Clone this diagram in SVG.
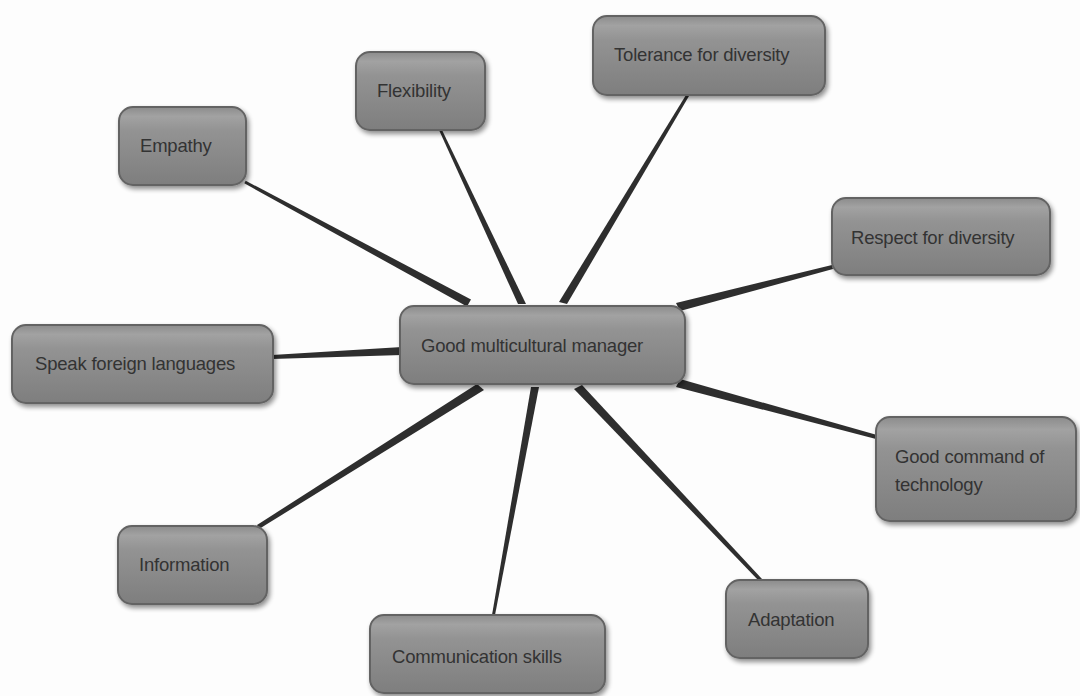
<svg xmlns="http://www.w3.org/2000/svg" width="1080" height="696" viewBox="0 0 1080 696">
<defs>
<linearGradient id="g" x1="0" y1="0" x2="0" y2="1">
<stop offset="0" stop-color="#8c8c8c"/>
<stop offset="0.12" stop-color="#a2a2a2"/>
<stop offset="0.3" stop-color="#939393"/>
<stop offset="1" stop-color="#7e7e7e"/>
</linearGradient>
<filter id="sh" x="-10%" y="-10%" width="125%" height="130%">
<feGaussianBlur in="SourceAlpha" stdDeviation="2.5"/>
<feOffset dx="2" dy="3"/>
<feComponentTransfer><feFuncA type="linear" slope="0.45"/></feComponentTransfer>
<feMerge><feMergeNode/><feMergeNode in="SourceGraphic"/></feMerge>
</filter>
</defs>
<style>
.box{fill:url(#g);stroke:#636363;stroke-width:2;filter:url(#sh)}
.t{font-family:"Liberation Sans",Arial,sans-serif;font-size:18.5px;fill:#333;letter-spacing:-0.2px}
.c{fill:#2e2e2e}
</style>
<rect width="1080" height="696" fill="#fdfdfd"/>
<g id="connectors">
<polygon class="c" points="245.7,180.7 244.3,183.3 467,306.5 471,299.5"/>
<polygon class="c" points="439,130 442,130 526,304 518,304"/>
<polygon class="c" points="686,95 689,96 567,304 559,302"/>
<polygon class="c" points="832,265 833,269 680,311 676,303"/>
<polygon class="c" points="272,355 272,359 402,355 402,347"/>
<polygon class="c" points="877,435 876,439 676,387 680,379"/>
<polygon class="c" points="759,581 762,579 582,385 574,389"/>
<polygon class="c" points="492,615 495,615 539,387 531,387"/>
<polygon class="c" points="257,525 259,529 484,390 477,384"/>
</g>
<g id="n-center"><rect class="box" x="400" y="306" width="285" height="78" rx="14"/><text class="t" x="421" y="352">Good multicultural manager</text></g>
<g id="n-empathy"><rect class="box" x="119" y="107" width="127" height="78" rx="14"/><text class="t" x="140" y="152">Empathy</text></g>
<g id="n-flexibility"><rect class="box" x="356" y="52" width="129" height="78" rx="14"/><text class="t" x="377" y="97">Flexibility</text></g>
<g id="n-tolerance"><rect class="box" x="593" y="16" width="232" height="79" rx="14"/><text class="t" x="614" y="61">Tolerance for diversity</text></g>
<g id="n-respect"><rect class="box" x="832" y="198" width="218" height="77" rx="14"/><text class="t" x="851" y="244">Respect for diversity</text></g>
<g id="n-speak"><rect class="box" x="12" y="325" width="261" height="78" rx="14"/><text class="t" x="35" y="370">Speak foreign languages</text></g>
<g id="n-command"><rect class="box" x="876" y="417" width="200" height="104" rx="14"/><text class="t" x="895" y="463">Good command of</text><text class="t" x="895" y="491">technology</text></g>
<g id="n-information"><rect class="box" x="118" y="526" width="149" height="78" rx="14"/><text class="t" x="139" y="571">Information</text></g>
<g id="n-communication"><rect class="box" x="370" y="615" width="235" height="78" rx="14"/><text class="t" x="392" y="663">Communication skills</text></g>
<g id="n-adaptation"><rect class="box" x="726" y="580" width="142" height="78" rx="14"/><text class="t" x="748" y="626">Adaptation</text></g>
</svg>
